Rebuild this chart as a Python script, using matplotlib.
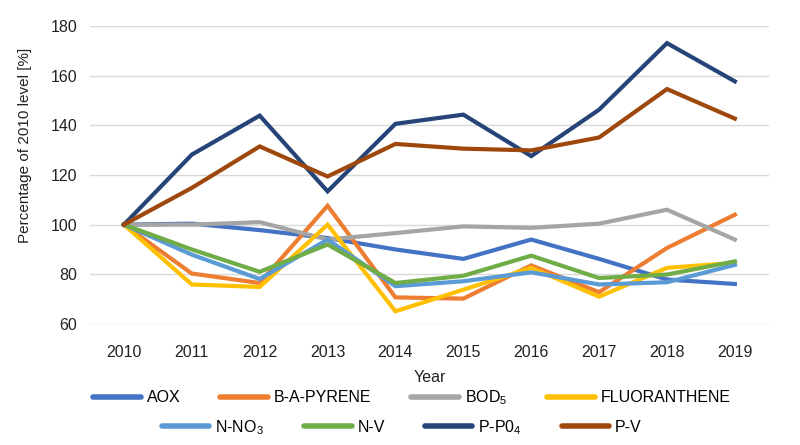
"""Pollutant levels relative to 2010, recreated as a line chart."""

import matplotlib
matplotlib.use("Agg")
import matplotlib.pyplot as plt

FONT = ["Liberation Sans", "DejaVu Sans"]
plt.rcParams["font.family"] = FONT
plt.rcParams["mathtext.fontset"] = "custom"
plt.rcParams["mathtext.rm"] = "Liberation Sans"
plt.rcParams["mathtext.it"] = "Liberation Sans"
plt.rcParams["mathtext.default"] = "rm"

years = [2010, 2011, 2012, 2013, 2014, 2015, 2016, 2017, 2018, 2019]

aox = [100, 100.4, 97.8, 94.6, 90.0, 86.2, 94.0, 86.2, 77.9, 76.1]
b_a_pyrene = [100, 80.3, 76.5, 107.6, 70.7, 70.2, 83.6, 72.8, 90.6, 104.0]
bod5 = [100, 100.0, 101.0, 94.0, 96.6, 99.3, 98.7, 100.4, 106.0, 94.0]
fluoranthene = [100, 75.9, 74.9, 100.0, 65.1, 73.8, 82.6, 71.0, 82.6, 84.6]
n_no3 = [100, 87.9, 78.1, 94.0, 75.2, 77.2, 80.8, 75.9, 76.8, 83.8]
n_v = [100, 90.0, 81.0, 92.0, 76.5, 79.4, 87.5, 78.5, 79.9, 85.2]
p_po4 = [100, 128.2, 143.9, 113.4, 140.6, 144.3, 127.6, 146.3, 173.1, 157.7]
p_v = [100, 114.8, 131.5, 119.4, 132.5, 130.6, 129.9, 135.1, 154.6, 142.7]

labels = ["AOX", "B-A-PYRENE", r"BOD$_5$", "FLUORANTHENE",
          r"N-NO$_3$", "N-V", r"P-P0$_4$", "P-V"]
series = [aox, b_a_pyrene, bod5, fluoranthene, n_no3, n_v, p_po4, p_v]
colors = ["#4472C4", "#ED7D31", "#A5A5A5", "#FFC000",
          "#5B9BD5", "#70AD47", "#264478", "#9E480E"]

fig = plt.figure(figsize=(8, 4.45), dpi=100)
ax = fig.add_axes([0.1125, 0.272, 0.8485, 0.6696])

x = list(range(len(years)))
lines = []
for vals, lab, col in zip(series, labels, colors):
    (ln,) = ax.plot(x, vals, color=col, linewidth=3, label=lab,
                    solid_joinstyle="miter")
    lines.append(ln)

ax.set_xlim(-0.5, len(years) - 0.5)
ax.set_ylim(60, 180)
ax.set_yticks(range(60, 181, 20))
ax.set_xticks(x)
ax.set_xticklabels([str(y) for y in years])
ax.tick_params(axis="both", length=0, labelsize=11.5, colors="#222222")
ax.tick_params(axis="y", pad=9)
ax.tick_params(axis="x", pad=15)
ax.grid(axis="y", color="#D9D9D9", linewidth=1)
ax.set_axisbelow(True)
for sp in ax.spines.values():
    sp.set_visible(False)

ax.set_xlabel("Year", fontsize=11.5, color="#222222", labelpad=7)
ax.set_ylabel("Percentage of 2010 level [%]", fontsize=11, color="#222222")
ax.yaxis.set_label_coords(-0.086, 0.60)

# Excel-style legend: two centred rows
legend_kw = dict(ncol=4, loc="center", frameon=False, fontsize=11.5,
                 handlelength=3.0, handletextpad=0.35, columnspacing=2.5)
leg1 = fig.legend(lines[:4], labels[:4], bbox_to_anchor=(0.515, 0.106),
                  **legend_kw)
leg2 = fig.legend(lines[4:], labels[4:], bbox_to_anchor=(0.502, 0.040),
                  **legend_kw)
for leg in (leg1, leg2):
    for h in leg.legend_handles:
        h.set_linewidth(4)
        h.set_solid_capstyle("round")

fig.savefig("out.png", dpi=100)
